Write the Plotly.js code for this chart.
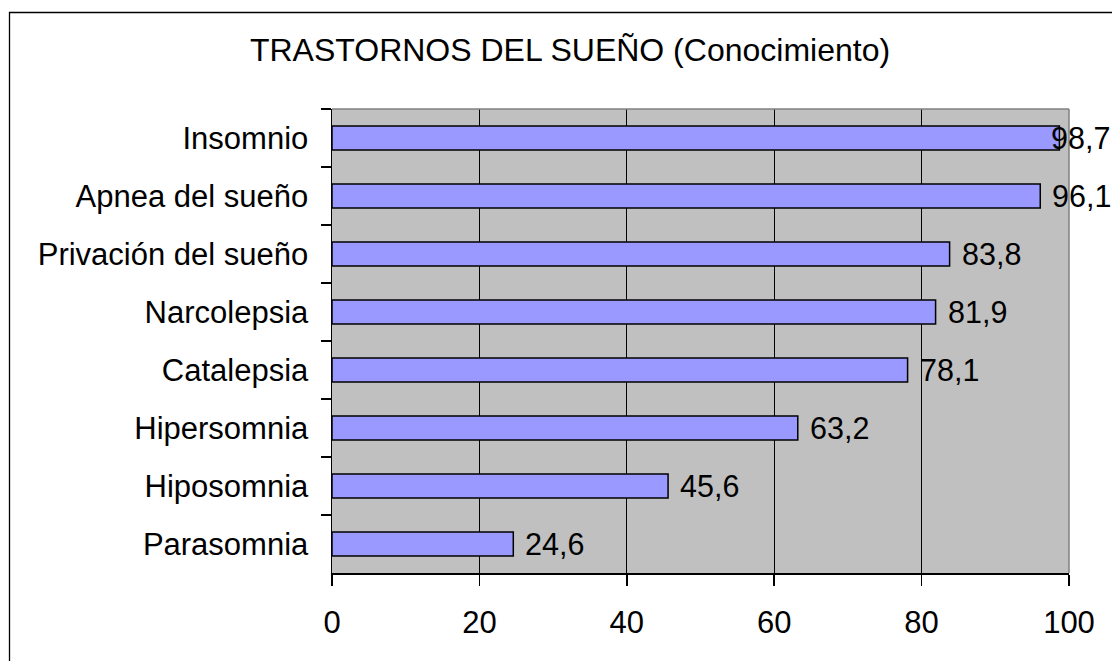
<!DOCTYPE html>
<html>
<head>
<meta charset="utf-8">
<script src="https://cdn.plot.ly/plotly-3.0.1.min.js"></script>
<style>
html,body{margin:0;padding:0;background:#fff;overflow:hidden}
#chart{width:1112px;height:661px}
</style>
</head>
<body>
<div id="chart"></div>
<script>
// ---- data ----
const categories = ["Insomnio", "Apnea del sueño", "Privación del sueño", "Narcolepsia",
                    "Catalepsia", "Hipersomnia", "Hiposomnia", "Parasomnia"];
const values = [98.7, 96.1, 83.8, 81.9, 78.1, 63.2, 45.6, 24.6];
const valueLabels = ["98,7", "96,1", "83,8", "81,9", "78,1", "63,2", "45,6", "24,6"];
const xTickVals = [0, 20, 40, 60, 80, 100];
const xTickText = ["0", "20", "40", "60", "80", "100"];
const titleText = "TRASTORNOS DEL SUEÑO (Conocimiento)";

// ---- layout constants ----
const W = 1112, H = 661;
const M = {l: 332, r: 43, t: 109, b: 88};
const plotW = W - M.l - M.r, plotH = H - M.t - M.b;
const FONT = '"Liberation Sans", Arial, sans-serif';
const LABEL_SIZE = 31;
const VALUE_SIZE = 30.5;
const xMax = 100;

// measure label widths so labels stay inside the figure
const ctx = document.createElement('canvas').getContext('2d');
ctx.font = VALUE_SIZE + 'px "Liberation Sans"';
const gap = 10;
const annotations = values.map((v, i) => {
  const w = ctx.measureText(valueLabels[i]).width;
  const endPx = M.l + v / xMax * plotW + gap + w;
  const base = {
    text: valueLabels[i], y: categories[i], yref: 'y', showarrow: false,
    yanchor: 'middle', font: {family: FONT, size: VALUE_SIZE, color: '#000'}
  };
  if (endPx > W - 1) {
    return Object.assign(base, {xref: 'paper', x: (W - M.l) / plotW, xanchor: 'right'});
  }
  return Object.assign(base, {xref: 'x', x: v, xanchor: 'left', xshift: gap});
});

const trace = {
  type: 'bar',
  orientation: 'h',
  x: values,
  y: categories,
  width: 0.41,
  marker: {color: '#9999FF', line: {color: '#000', width: 1.5}},
  hoverinfo: 'skip'
};

const px2x = p => (p - M.l) / plotW;
const px2y = p => (H - M.b - p) / plotH;

const layout = {
  width: W, height: H,
  margin: M,
  paper_bgcolor: '#fff',
  plot_bgcolor: '#C0C0C0',
  showlegend: false,
  font: {family: FONT, size: LABEL_SIZE, color: '#000'},
  title: {
    text: titleText,
    font: {family: FONT, size: 32, color: '#000'},
    x: 570 / W, xanchor: 'center', xref: 'container',
    y: 1 - 50 / H, yanchor: 'middle', yref: 'container'
  },
  xaxis: {
    range: [0, xMax],
    tickvals: xTickVals, ticktext: xTickText,
    showgrid: true, gridcolor: '#000', gridwidth: 1,
    zeroline: false,
    showline: true, linecolor: '#000', linewidth: 1.5,
    ticks: 'outside', ticklen: 11, tickwidth: 1.5, tickcolor: '#000',
    ticklabelstandoff: 10,
    tickfont: {family: FONT, size: LABEL_SIZE, color: '#000'},
    fixedrange: true
  },
  yaxis: {
    type: 'category',
    autorange: 'reversed',
    showgrid: false, zeroline: false,
    showline: true, linecolor: '#000', linewidth: 1.5,
    ticks: 'outside', tickson: 'boundaries', ticklen: 10, tickwidth: 1.5, tickcolor: '#000',
    ticklabelstandoff: 16,
    tickfont: {family: FONT, size: LABEL_SIZE, color: '#000'},
    fixedrange: true
  },
  shapes: [
    // gray plot-area border (top and right)
    {type: 'line', xref: 'paper', yref: 'paper', x0: 0, x1: 1, y0: 1, y1: 1,
     line: {color: '#808080', width: 1.5}},
    {type: 'line', xref: 'paper', yref: 'paper', x0: 1, x1: 1, y0: 0, y1: 1,
     line: {color: '#808080', width: 1.5}},
    // outer chart frame
    {type: 'rect', xref: 'paper', yref: 'paper',
     x0: px2x(9.5), x1: px2x(W + 20), y0: px2y(H + 20), y1: px2y(12.5),
     line: {color: '#000', width: 1.3}, fillcolor: 'rgba(0,0,0,0)'}
  ],
  annotations: annotations
};

Plotly.newPlot('chart', [trace], layout, {displayModeBar: false, staticPlot: true});
</script>
</body>
</html>
